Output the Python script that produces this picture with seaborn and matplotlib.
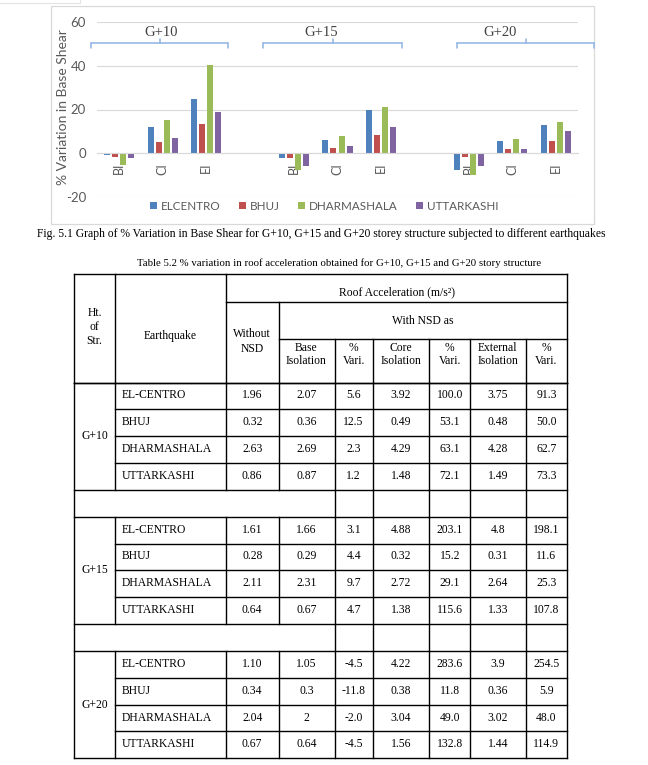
import matplotlib
matplotlib.use("Agg")
import matplotlib.pyplot as plt
from matplotlib.lines import Line2D
from matplotlib.patches import Rectangle, Patch
import seaborn as sns
import pandas as pd

# ---------------- data ----------------
groups = ["G+10", "G+15", "G+20"]
isolations = ["BI", "CI", "EI"]
series = ["ELCENTRO", "BHUJ", "DHARMASHALA", "UTTARKASHI"]
colors = ["#4F81BD", "#C0504D", "#9BBB59", "#8064A2"]
# % variation in base shear, order: G+10 BI,CI,EI, G+15 BI,CI,EI, G+20 BI,CI,EI
elcentro = [-0.7, 11.8, 24.6, -2.0, 6.1, 20.0, -7.6, 5.6, 13.0]
bhuj = [-1.7, 5.3, 13.6, -2.0, 2.4, 8.4, -1.7, 2.0, 5.6]
dharmashala = [-5.3, 15.3, 40.5, -7.6, 7.9, 21.2, -9.9, 6.6, 14.4]
uttarkashi = [-2.1, 7.2, 18.9, -5.6, 3.4, 12.1, -5.6, 2.0, 10.2]
yticks = [-20, 0, 20, 40, 60]

quakes = ["EL-CENTRO", "BHUJ", "DHARMASHALA", "UTTARKASHI"]
without_nsd = [["1.96", "0.32", "2.63", "0.86"],
               ["1.61", "0.28", "2.11", "0.64"],
               ["1.10", "0.34", "2.04", "0.67"]]
base_iso = [["2.07", "0.36", "2.69", "0.87"],
            ["1.66", "0.29", "2.31", "0.67"],
            ["1.05", "0.3", "2", "0.64"]]
base_var = [["5.6", "12.5", "2.3", "1.2"],
            ["3.1", "4.4", "9.7", "4.7"],
            ["-4.5", "-11.8", "-2.0", "-4.5"]]
core_iso = [["3.92", "0.49", "4.29", "1.48"],
            ["4.88", "0.32", "2.72", "1.38"],
            ["4.22", "0.38", "3.04", "1.56"]]
core_var = [["100.0", "53.1", "63.1", "72.1"],
            ["203.1", "15.2", "29.1", "115.6"],
            ["283.6", "11.8", "49.0", "132.8"]]
ext_iso = [["3.75", "0.48", "4.28", "1.49"],
           ["4.8", "0.31", "2.64", "1.33"],
           ["3.9", "0.36", "3.02", "1.44"]]
ext_var = [["91.3", "50.0", "62.7", "73.3"],
           ["198.1", "11.6", "25.3", "107.8"],
           ["254.5", "5.9", "48.0", "114.9"]]

# ---------------- figure ----------------
W, H = 648, 765
sns.set_style("white")
plt.rcParams["font.family"] = ["Lato", "DejaVu Sans"]
plt.rcParams["axes.unicode_minus"] = False
fig = plt.figure(figsize=(W / 100, H / 100), dpi=100)
fig.patch.set_facecolor("white")


def fx(x):
    return x / W


def fy(y):
    return 1 - y / H


GRAY = "#595959"
SERIF = ["Liberation Serif", "DejaVu Serif"]

# chart frame
fig.add_artist(Rectangle((fx(51), fy(224)), fx(594) - fx(51), fy(6) - fy(224),
                         transform=fig.transFigure, fill=False,
                         edgecolor="#D9D9D9", lw=0.9))
fig.add_artist(Line2D([fx(0), fx(80)], [fy(3), fy(3)], transform=fig.transFigure,
                      color="#E3E3E3", lw=0.8))
fig.add_artist(Line2D([fx(80), fx(80)], [fy(0), fy(3)], transform=fig.transFigure,
                      color="#E3E3E3", lw=0.8))

# build long table
slot_order = []
rows = []
for gi, g in enumerate(groups):
    for ii, iso in enumerate(isolations):
        key = f"{g} {iso}"
        slot_order.append(key)
        k = gi * 3 + ii
        for s, vals in zip(series, [elcentro, bhuj, dharmashala, uttarkashi]):
            rows.append({"slot": key, "series": s, "value": vals[k]})
    if gi < len(groups) - 1:
        slot_order.append(f"gap{gi}")
df = pd.DataFrame(rows)

ax = fig.add_axes([fx(97), fy(197), (578 - 97) / W, (197 - 22) / H])
sns.barplot(data=df, x="slot", y="value", hue="series", order=slot_order,
            hue_order=series, palette=colors, width=0.734, gap=0.25,
            saturation=1, errorbar=None, linewidth=0, legend=False, ax=ax)
ax.set_xlim(-0.5, len(slot_order) - 0.5)
ax.set_ylim(-20, 60)
ax.set_yticks(yticks)
ax.set_axisbelow(True)
ax.yaxis.grid(True, color="#D9D9D9", lw=0.8)
ax.xaxis.grid(False)
for sp in ["left", "right", "top"]:
    ax.spines[sp].set_visible(False)
ax.spines["bottom"].set_position(("data", 0))
ax.spines["bottom"].set_color("#D9D9D9")
ax.spines["bottom"].set_linewidth(0.8)
ax.set_xticks(range(len(slot_order)))
ax.set_xticklabels([s.split(" ")[1] if " " in s else "" for s in slot_order],
                   rotation=90, color=GRAY, fontsize=9)
ax.tick_params(axis="x", length=0, pad=7)
ax.tick_params(axis="y", length=0, pad=8, labelcolor=GRAY, labelsize=9.5)
ax.set_xlabel("")
ax.set_ylabel("")
ax.patch.set_alpha(0)

fig.text(fx(63), fy(107), "% Variation in Base Shear", rotation=90,
         ha="center", va="center", color=GRAY, fontsize=10)

# group braces + labels
BR = "#8EB4E3"
brace_spans = [(91, 228), (263, 402), (457, 594)]
label_x = [161, 321.5, 500.5]
for (x1, x2), g, lx in zip(brace_spans, groups, label_x):
    xm = (x1 + x2) / 2
    for xs, ys in [([x1, x2], [43, 43]), ([x1, x1], [43, 47.5]),
                   ([x2, x2], [43, 47.5]), ([xm, xm], [43, 39])]:
        fig.add_artist(Line2D([fx(v) for v in xs], [fy(v) for v in ys],
                              transform=fig.transFigure, color=BR, lw=1.1))
    fig.text(fx(lx), fy(32), g, ha="center", va="center", fontsize=10.5,
             family=SERIF, color="#404040")

# legend
handles = [Patch(facecolor=c, edgecolor="none") for c in colors]
fig.legend(handles, series, loc="center", bbox_to_anchor=(fx(324), fy(206)),
           ncol=4, frameon=False, fontsize=8.4, handlelength=0.62,
           handleheight=0.62, handletextpad=0.3, columnspacing=1.6,
           labelcolor=GRAY, borderaxespad=0, borderpad=0)

renderer = fig.canvas.get_renderer()


def fit_text(t, target):
    w = t.get_window_extent(renderer).width
    t.set_fontsize(t.get_fontsize() * target / w)


cap = fig.text(fx(321.5), fy(234), "Fig. 5.1 Graph of % Variation in Base Shear for G+10, "
               "G+15 and G+20 storey structure subjected to different earthquakes",
               ha="center", va="center", family=SERIF, fontsize=9, color="black")
fit_text(cap, 571)
ttl = fig.text(fx(339.5), fy(263), "Table 5.2 % variation in roof acceleration obtained "
               "for G+10, G+15 and G+20 story structure",
               ha="center", va="center", family=SERIF, fontsize=9, color="black")
fit_text(ttl, 403)

# ---------------- table ----------------
cols = [74, 115, 226, 278.5, 334.5, 372.7, 429.3, 470.4, 525.5, 567.3]
top, r1, r2, hb = 273.5, 302.5, 338.5, 382.5
rh = (758.3 - hb) / 14
LW = 1.0
TFS = 8.4


def hline(x1, x2, y):
    fig.add_artist(Line2D([fx(x1), fx(x2)], [fy(y), fy(y)], transform=fig.transFigure,
                          color="black", lw=LW, solid_capstyle="projecting"))


def vline(x, y1, y2):
    fig.add_artist(Line2D([fx(x), fx(x)], [fy(y1), fy(y2)], transform=fig.transFigure,
                          color="black", lw=LW, solid_capstyle="projecting"))


def txt(x, y, s, ha="center"):
    fig.text(fx(x), fy(y), s, ha=ha, va="center", family=SERIF, fontsize=TFS,
             color="black")


# header lines
hline(cols[0], cols[-1], top)
hline(cols[2], cols[-1], r1)
hline(cols[3], cols[-1], r2)
hline(cols[0], cols[-1], hb)
for c in [cols[0], cols[1], cols[2], cols[-1]]:
    vline(c, top, hb)
vline(cols[3], r1, hb)
for c in cols[4:-1]:
    vline(c, r2, hb)

# header text
txt((cols[0] + cols[1]) / 2, 313.5, "Ht.")
txt((cols[0] + cols[1]) / 2, 327.5, "of")
txt((cols[0] + cols[1]) / 2, 341.5, "Str.")
txt((cols[1] + cols[2]) / 2, 335.5, "Earthquake")
txt((cols[2] + cols[-1]) / 2, 292.5, "Roof Acceleration (m/s²)")
txt((cols[3] + cols[-1]) / 2, 321, "With NSD as")
txt((cols[2] + cols[3]) / 2, 334, "Without")
txt((cols[2] + cols[3]) / 2, 349, "NSD")
sub_heads = [("Base", "Isolation"), ("%", "Vari."), ("Core", "Isolation"),
             ("%", "Vari."), ("External", "Isolation"), ("%", "Vari.")]
for i, (a, b) in enumerate(sub_heads):
    xc = (cols[3 + i] + cols[4 + i]) / 2
    txt(xc, 348, a)
    txt(xc, 361.5, b)

# body
edges = [hb + k * rh for k in range(15)]
for k in range(15):
    inner = (k % 5) in (1, 2, 3)
    hline(cols[1] if inner else cols[0], cols[-1], edges[k])
vline(cols[0], hb, edges[14])
vline(cols[-1], hb, edges[14])
for b in range(3):
    y1, y2 = edges[5 * b], edges[5 * b + 4]
    for c in cols[1:-1]:
        vline(c, y1, y2)
    if b < 2:
        for c in cols[4:-1]:
            vline(c, edges[5 * b + 4], edges[5 * b + 5])
    txt((cols[0] + cols[1]) / 2, (y1 + y2) / 2, groups[b])
    tables = [without_nsd, base_iso, base_var, core_iso, core_var, ext_iso, ext_var]
    for r in range(4):
        yc = edges[5 * b + r] + rh / 2 - 0.5
        txt(cols[1] + 7, yc, quakes[r], ha="left")
        for j, tab in enumerate(tables):
            txt((cols[2 + j] + cols[3 + j]) / 2, yc, tab[b][r])

fig.savefig("out.png", dpi=100, facecolor="white")
